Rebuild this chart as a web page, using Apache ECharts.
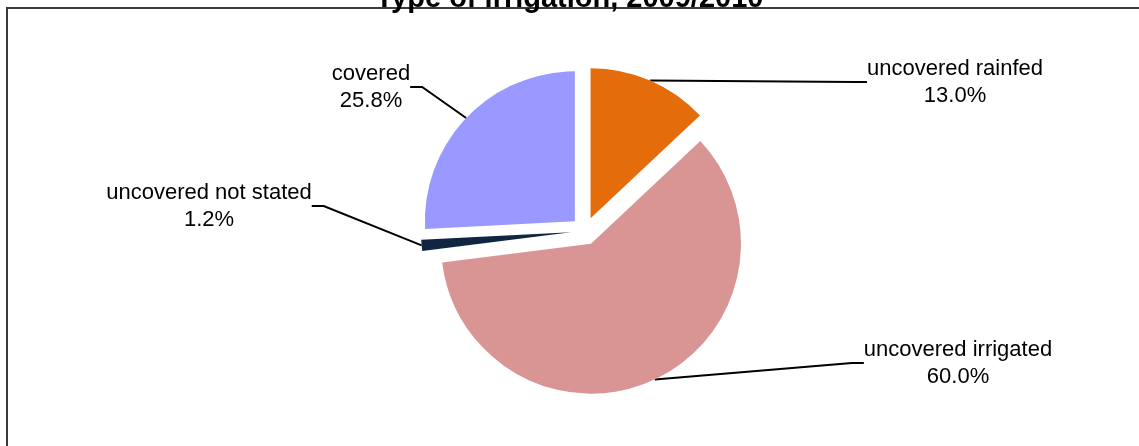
<!DOCTYPE html>
<html>
<head>
<meta charset="utf-8">
<script src="https://cdn.jsdelivr.net/npm/echarts@6/dist/echarts.min.js"></script>
<style>
	html, body { margin: 0; padding: 0; background: #fff; }
	#irrigationPie { width: 1139px; height: 446px; }
</style>
</head>
<body>
<div id="irrigationPie"></div>
<script>
	// chart data
	const titleText = 'Type of irrigation, 2009/2010';
	const categories = ['uncovered rainfed', 'uncovered irrigated', 'uncovered not stated', 'covered'];
	const shares = [13.0, 60.0, 1.2, 25.8];
	const sliceColors = ['#E46C0A', '#D99594', '#10253F', '#9999FF'];

	// where each label block sits (centre of the text block)
	const labelSpots = [
		[955, 82],
		[958, 363],
		[209, 206],
		[371, 87]
	];

	const pieCenter = [585, 231];
	const pieRadius = 150;
	const explode = 14;

	// every slice is pulled out along its own middle angle, so each one
	// gets its own pie series (the other slices stay invisible there)
	const total = shares.reduce((a, b) => a + b, 0);
	let cumulative = 0;
	const seriesList = categories.map((name, k) => {
		const mid = (cumulative + shares[k] / 2) / total * Math.PI * 2;
		cumulative += shares[k];
		return {
			type: 'pie',
			center: [pieCenter[0] + explode * Math.sin(mid), pieCenter[1] - explode * Math.cos(mid)],
			radius: pieRadius,
			startAngle: 90,
			clockwise: true,
			silent: true,
			emphasis: { disabled: true },
			label: {
				show: true,
				fontFamily: 'Liberation Sans',
				fontSize: 22,
				lineHeight: 27,
				color: '#000',
				align: 'center',
				formatter: function(p) {
					return p.name + '\n' + p.value.toFixed(1) + '%';
				}
			},
			labelLine: {
				show: true,
				length: 20,
				length2: 12,
				lineStyle: { color: '#000', width: 2 }
			},
			labelLayout: function(params) {
				const spot = labelSpots[params.dataIndex];
				return {
					x: spot[0],
					y: spot[1],
					align: 'center',
					verticalAlign: 'middle'
				};
			},
			data: categories.map((n, i) => {
				const item = { name: n, value: shares[i] };
				if (i === k) {
					item.itemStyle = { color: sliceColors[i] };
				} else {
					item.itemStyle = { color: 'rgba(0,0,0,0)' };
					item.label = { show: false };
					item.labelLine = { show: false };
				}
				return item;
			})
		};
	});

	let myChart = echarts.init(document.getElementById('irrigationPie'));
	const option = {
		animation: false,
		title: {
			text: titleText,
			left: 'center',
			top: -21,
			textStyle: {
				fontFamily: 'Liberation Sans',
				fontSize: 29,
				fontWeight: 'bold',
				color: '#000'
			}
		},
		graphic: [{
			type: 'rect',
			shape: { x: 7, y: 8, width: 1150, height: 460 },
			style: { fill: 'none', stroke: '#3a3a3a', lineWidth: 2 },
			silent: true
		}],
		series: seriesList
	};
	myChart.setOption(option);
</script>
</body>
</html>
